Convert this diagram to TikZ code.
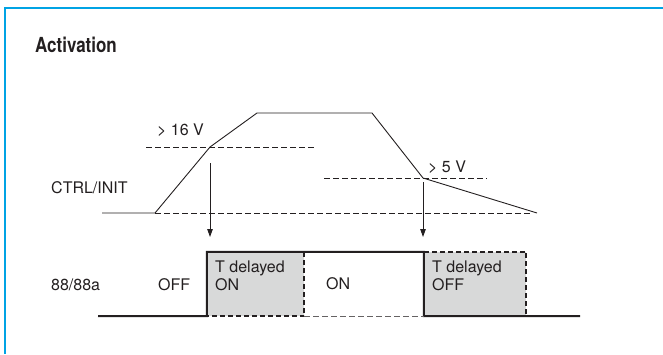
\documentclass[tikz,border=0pt]{standalone}
\usepackage{fontspec}
\setmainfont{TeX Gyre Heros}
\usetikzlibrary{arrows.meta}
\definecolor{framecyan}{RGB}{0,163,228}
\definecolor{boxgray}{RGB}{216,217,217}
\definecolor{ink}{RGB}{35,31,32}
\tikzset{
  lbl/.style={inner sep=0pt, anchor=base west, text=ink, font=\fontsize{16bp}{18bp}\selectfont},
  thinline/.style={line width=0.9bp, draw=ink},
  thindash/.style={line width=0.9bp, draw=ink, dash pattern=on 6bp off 3bp},
  thickline/.style={line width=2bp, draw=ink},
  thickdash/.style={line width=2bp, draw=ink, dash pattern=on 5bp off 3bp},
  lightdash/.style={line width=1bp, draw=ink!70, dash pattern=on 6bp off 3bp},
  trig/.style={line width=0.9bp, draw=ink, -{Triangle[length=8bp,width=5.5bp]}},
  delaybox/.style={fill=boxgray, draw=none, inner sep=0pt, minimum width=#1, minimum height=64bp}
}
\begin{document}
\begin{tikzpicture}[x=1bp,y=-1bp]
\useasboundingbox (0,0) rectangle (663,354);
% frame
\coordinate (fbl) at (5,354);
\coordinate (ftl) at (5,8);
\coordinate (ftr) at (663,8);
\draw[framecyan, line width=1.8bp] (fbl) -- (ftl) -- (ftr);

% title
\node[lbl, font=\fontsize{17bp}{20bp}\selectfont\bfseries, yscale=1.22, transform shape] (title) at (35,52) {Activation};

% CTRL/INIT signal
\coordinate (c0) at (102,213);
\coordinate (c1) at (155,213);
\coordinate (c2) at (210,147);
\coordinate (c3) at (257,113);
\coordinate (c4) at (372,113);
\coordinate (c5) at (423,178);
\coordinate (c6) at (537,213);
\coordinate (b1) at (533,213);
\draw[thinline, line join=miter] (c0) -- (c1) -- (c2) -- (c3) -- (c4) -- (c5) -- (c6);
\draw[thindash] (c1) -- (b1);
% thresholds
\coordinate (h1a) at (146,147);
\coordinate (h1b) at (316,147);
\coordinate (h2a) at (324,178);
\coordinate (h2b) at (487,178);
\draw[thindash] (h1a) -- (h1b);
\draw[thindash] (h2a) -- (h2b);
\node[lbl] (v16) at (157,135) {> 16 V};
\node[lbl] (v5) at (428,172) {> 5 V};
\node[lbl] (ctrl) at (51,193) {CTRL/INIT};

% trigger arrows
\coordinate (a1s) at (210,163);
\coordinate (a1e) at (210,237);
\coordinate (a2s) at (423,182);
\coordinate (a2e) at (423,237);
\draw[trig] (a1s) -- (a1e);
\draw[trig] (a2s) -- (a2e);

% output 88/88a
\node[delaybox=97bp] (d1) at (255.5,284) {};
\node[delaybox=102bp] (d2) at (475,284) {};
\coordinate (o0) at (98,316);
\coordinate (o1) at (580,316);
\draw[thickline, line join=miter] (o0) -- (d1.south west) -- (d1.north west) -- (d1.north east) -- (d2.north west) -- (d2.south west) -- (d2.south east) -- (o1);
\draw[thickdash] (d1.north east) -- (d1.south east) -- (d1.south west);
\draw[lightdash] (d1.south east) -- (d2.south west);
\draw[thickdash] (d2.north west) -- (d2.north east) -- (d2.south east);

\node[lbl] (out) at (51,290) {88/88a};
\node[lbl] (off) at (158,290) {OFF};
\node[lbl] (td1a) at (215,272) {T delayed};
\node[lbl] (td1b) at (215,290) {ON};
\node[lbl] (on) at (326,289) {ON};
\node[lbl] (td2a) at (432,272) {T delayed};
\node[lbl] (td2b) at (432,290) {OFF};
\end{tikzpicture}
\end{document}
